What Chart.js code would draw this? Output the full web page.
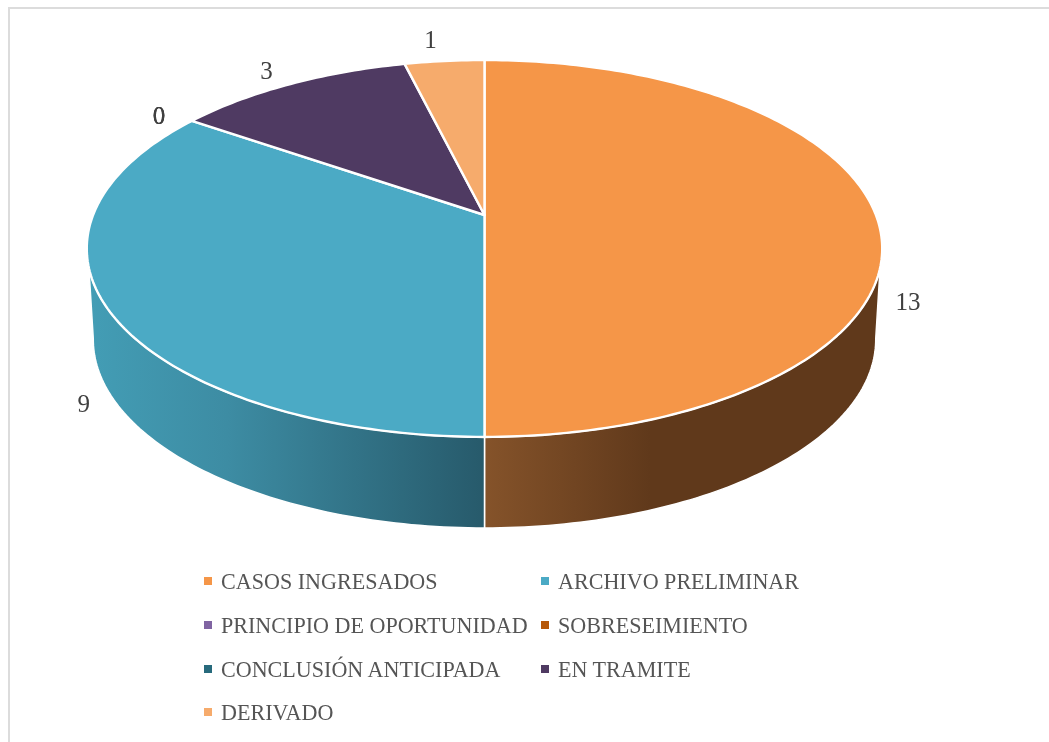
<!DOCTYPE html>
<html>
<head>
<meta charset="utf-8">
<title>Casos</title>
<script src="https://cdn.jsdelivr.net/npm/chart.js@4"></script>
<style>
  html, body { margin: 0; padding: 0; background: #fff; }
  #wrap { position: relative; width: 1049px; height: 742px; overflow: hidden; }
  #frame { position: absolute; left: 8px; top: 7px; width: 1060px; height: 760px; border: 2px solid #dcdcdc; }
  #pie { position: absolute; left: 0; top: 0; }
  #legend { position: absolute; left: 0; top: 0; }
  .item { position: absolute; height: 44px; line-height: 44px; white-space: nowrap; color: #555;
          font-family: "Liberation Serif", serif; font-size: 24px; }
  .item span { display: inline-block; transform: scaleX(0.92); transform-origin: left center; }
  .item i { position: absolute; left: -17px; top: 18px; width: 8px; height: 8px; }
</style>
</head>
<body>
<div id="wrap">
  <div id="frame"></div>
  <canvas id="pie" width="1049" height="742"></canvas>
  <div id="legend"></div>
</div>
<script>
const categories = ["CASOS INGRESADOS", "ARCHIVO PRELIMINAR", "PRINCIPIO DE OPORTUNIDAD", "SOBRESEIMIENTO", "CONCLUSIÓN ANTICIPADA", "EN TRAMITE", "DERIVADO"];
const values = [13, 9, 0, 0, 0, 3, 1];
const colors = ["#F59648", "#4BAAC5", "#8064A2", "#B65708", "#276A7C", "#4F3A62", "#F6AB6C"];
// legend is two columns, filled row by row
const legendCols = [221, 558];
const legendRows = [581, 625, 669, 712];

// perspective of the tilted disc (top face and bottom face)
const K = 0.1777;
const top3d = { x: 484.5, y: 215, ax: 391.4, ay: 182.5 };
const bottom3d = { x: 484.5, y: 306, ax: 385, ay: 182.5 };
const sideTop = [106, 254];
const sideBottom = [100, 260];

// data label nudges from the rim, px
const labelNudge = [[32, 88], [-23, 98], [-33, -3], [-33, -3], [-33, -3], [-24, -12], [-14, -20]];

function project(face, deg) {
  const a = deg * Math.PI / 180;
  const u = Math.sin(a), v = -Math.cos(a);
  const w = 1 - K * v;
  return [face.x + face.ax * u / w, face.y + face.ay * v / w];
}

function rimPath(ctx, face, from, to) {
  const n = Math.max(2, Math.ceil(Math.abs(to - from)));
  for (let i = 0; i <= n; i++) {
    const p = project(face, from + (to - from) * i / n);
    ctx.lineTo(p[0], p[1]);
  }
}

function sideFill(ctx, i) {
  if (i === 0) {
    const g = ctx.createLinearGradient(484, 0, 880, 0);
    g.addColorStop(0, "#85532A");
    g.addColorStop(0.42, "#60391B");
    g.addColorStop(1, "#60391B");
    return g;
  }
  const g = ctx.createLinearGradient(90, 0, 484, 0);
  g.addColorStop(0, "#439DB5");
  g.addColorStop(0.35, "#3D8CA3");
  g.addColorStop(1, "#275A6B");
  return g;
}

const pie3d = {
  id: "pie3d",
  beforeDatasetsDraw(chart) {
    const ctx = chart.ctx;
    const arcs = chart.getDatasetMeta(0).data;
    const degs = arcs.map(el => [el.startAngle * 180 / Math.PI + 90, el.endAngle * 180 / Math.PI + 90]);

    ctx.save();
    ctx.lineJoin = "round";
    ctx.strokeStyle = "#fff";

    // front wall first, only the part that can be seen
    degs.forEach((d, i) => {
      if (values[i] === 0) return;
      const a = Math.max(d[0], sideTop[0]), b = Math.min(d[1], sideTop[1]);
      const a2 = Math.max(d[0], sideBottom[0]), b2 = Math.min(d[1], sideBottom[1]);
      if (b <= a) return;
      ctx.beginPath();
      rimPath(ctx, top3d, a, b);
      rimPath(ctx, bottom3d, b2, a2);
      ctx.closePath();
      ctx.fillStyle = sideFill(ctx, i);
      ctx.fill();
      ctx.lineWidth = 1.5;
      ctx.stroke();
    });

    // top face
    degs.forEach((d, i) => {
      if (values[i] === 0) return;
      ctx.beginPath();
      ctx.moveTo(top3d.x, top3d.y);
      rimPath(ctx, top3d, d[0], d[1]);
      ctx.closePath();
      ctx.fillStyle = colors[i];
      ctx.fill();
      ctx.lineWidth = 2.4;
      ctx.stroke();
    });

    // value labels
    ctx.fillStyle = "#404040";
    ctx.font = '25px "Liberation Serif", serif';
    ctx.textAlign = "center";
    ctx.textBaseline = "middle";
    degs.forEach((d, i) => {
      const p = project(top3d, (d[0] + d[1]) / 2);
      ctx.fillText(String(values[i]), p[0] + labelNudge[i][0], p[1] + labelNudge[i][1]);
    });
    ctx.restore();
    return false;
  }
};

new Chart(document.getElementById("pie"), {
  type: "pie",
  data: {
    labels: categories,
    datasets: [{ data: values, backgroundColor: colors, borderColor: "#fff", borderWidth: 2 }]
  },
  options: {
    responsive: false,
    animation: false,
    plugins: { legend: { display: false }, tooltip: { enabled: false } }
  },
  plugins: [pie3d]
});

// Build legend
const legendEl = document.getElementById("legend");
categories.forEach((name, i) => {
  const item = document.createElement("div");
  item.className = "item";
  item.style.left = legendCols[i % 2] + "px";
  item.style.top = (legendRows[Math.floor(i / 2)] - 22) + "px";
  const text = document.createElement("span");
  text.textContent = name;
  item.appendChild(text);
  const box = document.createElement("i");
  box.style.background = colors[i];
  item.appendChild(box);
  legendEl.appendChild(item);
});
</script>
</body>
</html>
